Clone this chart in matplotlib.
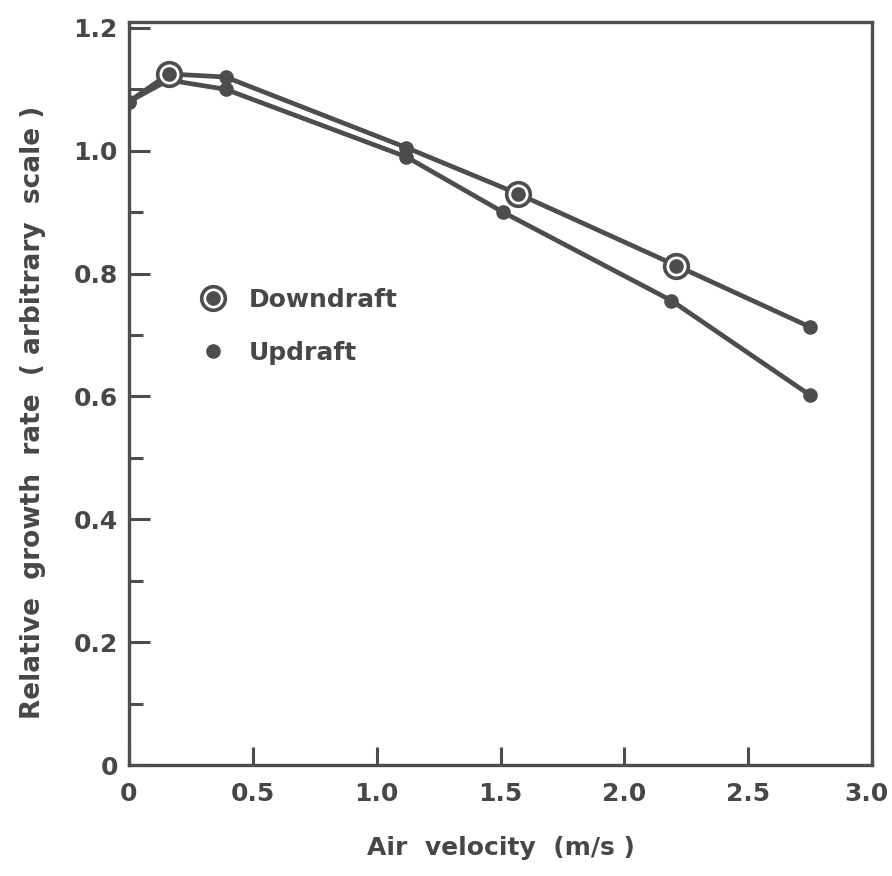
import matplotlib
matplotlib.use('Agg')
import matplotlib.pyplot as plt
import matplotlib.transforms as mtransforms
from matplotlib.lines import Line2D
from matplotlib.ticker import MultipleLocator, FixedLocator

# data
down_v = [0.0, 0.16, 0.39, 1.12, 1.57, 2.21, 2.75]
down_rate = [1.08, 1.125, 1.12, 1.005, 0.93, 0.813, 0.713]
down_ringed = [False, True, False, False, True, True, False]

up_v = [0.0, 0.16, 0.39, 1.12, 1.51, 2.19, 2.75]
up_rate = [1.08, 1.115, 1.10, 0.99, 0.90, 0.756, 0.602]

xticks = [0, 0.5, 1.0, 1.5, 2.0, 2.5, 3.0]
xtick_labels = ['0', '0.5', '1.0', '1.5', '2.0', '2.5', '3.0']
yticks = [0, 0.2, 0.4, 0.6, 0.8, 1.0, 1.2]
ytick_labels = ['0', '0.2', '0.4', '0.6', '0.8', '1.0', '1.2']

ink = '#4d4d4d'
txt = '#474747'
plt.rcParams['font.family'] = ['DejaVu Sans']
plt.rcParams['font.weight'] = 'bold'

fig = plt.figure(figsize=(8.92, 8.76), dpi=100)
ax = fig.add_axes([0.1446, 0.1267, 0.8330, 0.8485])

# lines
ax.plot(down_v, down_rate, color=ink, lw=3.4, zorder=2)
ax.plot(up_v, up_rate, color=ink, lw=3.4, zorder=2)

# updraft dots
ax.plot(up_v, up_rate, ls='none', marker='o', ms=9.5, color=ink, zorder=3)

# downdraft: dots, with rings where the figure shows them
plain_v = [v for v, r in zip(down_v, down_ringed) if not r]
plain_y = [y for y, r in zip(down_rate, down_ringed) if not r]
ring_v = [v for v, r in zip(down_v, down_ringed) if r]
ring_y = [y for y, r in zip(down_rate, down_ringed) if r]
ax.plot(plain_v, plain_y, ls='none', marker='o', ms=9.5, color=ink, zorder=3)
ax.plot(ring_v, ring_y, ls='none', marker='o', ms=17, mfc='white',
        mec=ink, mew=2.6, zorder=4)
ax.plot(ring_v, ring_y, ls='none', marker='o', ms=9.5, color=ink, zorder=5)

ax.set_xlim(0, 3.0)
ax.set_ylim(0, 1.21)

ax.xaxis.set_major_locator(FixedLocator(xticks))
ax.set_xticklabels(xtick_labels)
ax.yaxis.set_major_locator(FixedLocator(yticks))
ax.set_yticklabels(ytick_labels)
ax.yaxis.set_minor_locator(MultipleLocator(0.1))

ax.tick_params(axis='both', which='both', direction='in', colors=ink,
               labelcolor=txt, labelsize=18, width=2.2)
ax.tick_params(axis='x', which='major', length=13, pad=12)
ax.tick_params(axis='y', which='major', length=15, pad=8)
ax.tick_params(axis='y', which='minor', length=10)
for s in ax.spines.values():
    s.set_linewidth(2.4)
    s.set_color(ink)

# keep the last x label inside the canvas
last = ax.get_xticklabels()[-1]
last.set_transform(last.get_transform() +
                   mtransforms.ScaledTranslation(-6 / 100, 0, fig.dpi_scale_trans))

ax.set_xlabel('Air  velocity  (m/s )', fontsize=18, fontweight='bold',
              color=txt, labelpad=22)
ax.set_ylabel('Relative  growth  rate  ( arbitrary  scale )', fontsize=19,
              fontweight='bold', color=txt)
ax.yaxis.set_label_coords(-0.112, 0.475)

ring = Line2D([], [], ls='none', marker='o', ms=17, mfc='white', mec=ink, mew=2.6)
dot = Line2D([], [], ls='none', marker='o', ms=9.5, color=ink)
ax.legend([(ring, dot), dot], ['Downdraft', 'Updraft'], loc='center left',
          bbox_to_anchor=(0.08, 0.59), frameon=False, fontsize=18,
          labelcolor=txt, handlelength=1.0, handletextpad=0.9,
          labelspacing=1.15, borderpad=0)

fig.savefig('out.png', dpi=100, facecolor='white')
